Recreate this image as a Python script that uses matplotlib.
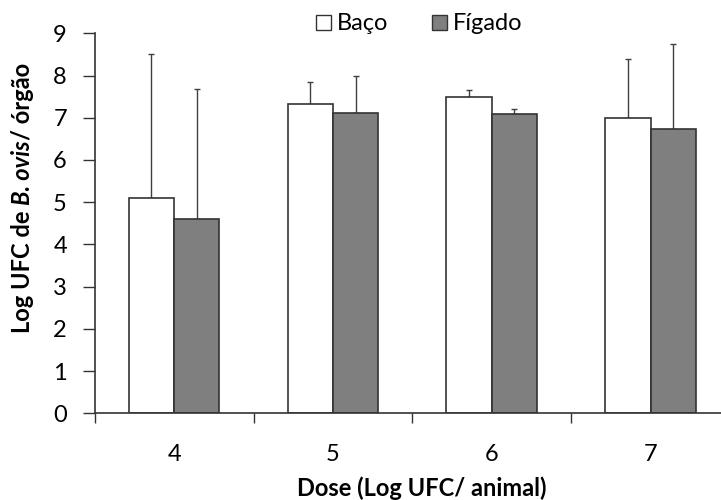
import matplotlib
matplotlib.use("Agg")
import matplotlib.pyplot as plt
from matplotlib.patches import Patch
import numpy as np

# data
doses = ["4", "5", "6", "7"]
baco = [5.09, 7.32, 7.48, 7.00]
figado = [4.61, 7.12, 7.10, 6.73]
baco_err = [3.43, 0.52, 0.18, 1.40]
figado_err = [3.08, 0.87, 0.10, 2.01]
y_ticks = [0, 1, 2, 3, 4, 5, 6, 7, 8, 9]

plt.rcParams["font.family"] = ["Lato", "DejaVu Sans"]
FS = 17
EDGE = "#333333"

fig = plt.figure(figsize=(7.21, 5.0), dpi=100)
W, H = 721, 500
left, right, top, bottom = 94.7, 730, 33.3, 413.3
ax = fig.add_axes([left / W, 1 - bottom / H, (right - left) / W, (bottom - top) / H])

x = np.arange(len(doses))
w = 1 / 3.5

ax.bar(x - w / 2, baco, w, color="white", edgecolor=EDGE, linewidth=1.2, zorder=2)
ax.bar(x + w / 2, figado, w, color="#7f7f7f", edgecolor=EDGE, linewidth=1.2, zorder=2)
ax.errorbar(x - w / 2, baco, yerr=[np.zeros(4), baco_err], fmt="none",
            ecolor="#404040", elinewidth=1, capsize=2.5, capthick=1, zorder=1)
ax.errorbar(x + w / 2, figado, yerr=[np.zeros(4), figado_err], fmt="none",
            ecolor="#404040", elinewidth=1, capsize=2.5, capthick=1, zorder=1)

ax.set_xlim(-0.5, 3.5)
ax.set_ylim(0, 9)
ax.set_yticks(y_ticks)
ax.set_yticklabels([str(t) for t in y_ticks], fontsize=FS)

# ticks at category boundaries, labels at centres
ax.set_xticks(np.arange(-0.5, 4.0, 1.0))
ax.set_xticklabels([])
ax.set_xticks(x, minor=True)
ax.set_xticklabels(doses, minor=True, fontsize=FS)
ax.tick_params(axis="x", which="major", length=7.5, width=1, color=EDGE, direction="out")
ax.tick_params(axis="x", which="minor", length=0, pad=22)
ax.tick_params(axis="y", length=9, width=1, color=EDGE, direction="out", pad=11)

for s in ["top", "right"]:
    ax.spines[s].set_visible(False)
for s in ["left", "bottom"]:
    ax.spines[s].set_color(EDGE)
    ax.spines[s].set_linewidth(1.2)

fig.text(422 / W, 1 - 488 / H, "Dose (Log UFC/ animal)", fontsize=FS,
         fontweight="bold", ha="center", va="center")

# y label with italic species name
t1 = fig.text(22 / W, 1 - 333 / H, "Log UFC de ", fontsize=FS, fontweight="bold",
              rotation=90, ha="center", va="bottom")
t2 = ax.annotate("B. ovis", xy=(0.5, 1), xycoords=t1, fontsize=FS, fontweight="bold",
                 style="italic", rotation=90, ha="center", va="bottom")
ax.annotate("/ órgão", xy=(0.5, 1), xycoords=t2, fontsize=FS, fontweight="bold",
            rotation=90, ha="center", va="bottom")

handles = [Patch(facecolor="white", edgecolor=EDGE, linewidth=1),
           Patch(facecolor="#7f7f7f", edgecolor=EDGE, linewidth=1)]
fig.legend(handles, ["Baço", "Fígado"], loc="center left",
           bbox_to_anchor=(316 / W, 1 - 24 / H), ncol=2, frameon=False,
           fontsize=FS, handlelength=0.64, handleheight=0.62, handletextpad=0.25,
           columnspacing=1.86, borderpad=0, borderaxespad=0)

fig.savefig("out.png", dpi=100)
